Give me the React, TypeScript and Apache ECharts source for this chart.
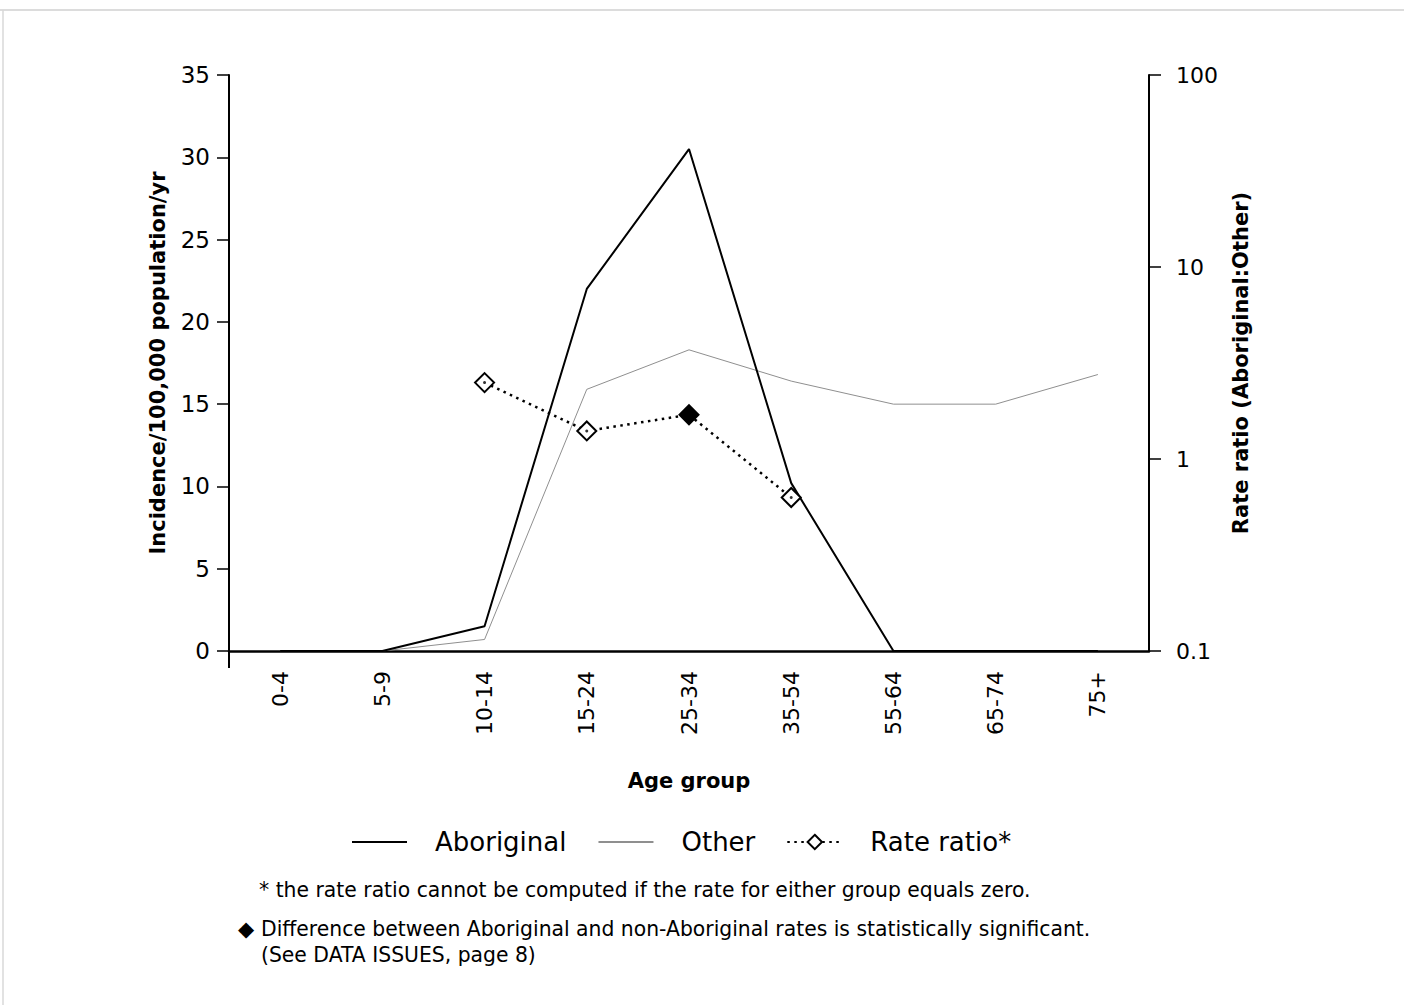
import React, { useEffect, useRef } from 'react';
import * as echarts from 'echarts';

const categories = ['0-4', '5-9', '10-14', '15-24', '25-34', '35-54', '55-64', '65-74', '75+'];
const aboriginal = [0, 0, 1.5, 22.0, 30.5, 10.2, 0, 0, 0];
const other = [0, 0, 0.7, 15.9, 18.3, 16.4, 15.0, 15.0, 16.8];
const rateRatio: (number | null)[] = [null, null, 2.5, 1.4, 1.7, 0.63, null, null, null];
const significant = [false, false, false, false, true, false, false, false, false];
const leftTicks = { min: 0, max: 35, interval: 5 };
const rightTicks = { min: 0.1, max: 100 };
const footnote1 = '* the rate ratio cannot be computed if the rate for either group equals zero.';
const footnote2 = 'Difference between Aboriginal and non-Aboriginal rates is statistically significant.';
const footnote3 = '(See DATA ISSUES, page 8)';

export default function App() {
  const ref = useRef<HTMLDivElement>(null);
  useEffect(() => {
    const chart = echarts.init(ref.current!, null, { renderer: 'svg' });
    const F = 'DejaVu Sans';
    const gL = 229, gT = 75, gW = 920, gH = 576;
    chart.setOption({
      animation: false,
      backgroundColor: '#fff',
      textStyle: { fontFamily: F, color: '#000' },
      grid: { left: gL, top: gT, width: gW, height: gH },
      legend: {
        data: [
          { name: 'Aboriginal', itemStyle: { opacity: 0 } },
          { name: 'Other', itemStyle: { opacity: 0 } },
          { name: 'Rate ratio*' },
        ],
        left: 351,
        top: 829,
        padding: 0,
        itemWidth: 55,
        itemHeight: 18,
        itemGap: 31,
        textStyle: { fontFamily: F, fontSize: 26, color: '#000', padding: [0, 0, 0, 23] },
      },
      xAxis: {
        type: 'category',
        data: categories,
        boundaryGap: true,
        name: 'Age group',
        nameLocation: 'middle',
        nameGap: 119,
        nameTextStyle: { fontFamily: F, fontWeight: 'bold', fontSize: 21, color: '#000' },
        axisLine: { lineStyle: { color: '#000', width: 2.5 } },
        axisTick: { alignWithLabel: true, length: 12, lineStyle: { color: '#000', width: 1.5 } },
        axisLabel: { rotate: 90, fontSize: 22, color: '#000', margin: 20, fontFamily: F },
        splitLine: { show: false },
      },
      yAxis: [
        {
          type: 'value',
          min: leftTicks.min,
          max: leftTicks.max,
          interval: leftTicks.interval,
          name: 'Incidence/100,000 population/yr',
          nameLocation: 'middle',
          nameGap: 61,
          nameRotate: 90,
          nameTextStyle: { fontFamily: F, fontWeight: 'bold', fontSize: 21, color: '#000' },
          axisLine: { show: true, lineStyle: { color: '#000', width: 2 } },
          axisTick: { show: true, length: 12, lineStyle: { color: '#000', width: 1.5 } },
          axisLabel: { fontSize: 23, color: '#000', margin: 19, fontFamily: F },
          splitLine: { show: false },
        },
        {
          type: 'log',
          logBase: 10,
          min: rightTicks.min,
          max: rightTicks.max,
          position: 'right',
          name: 'Rate ratio (Aboriginal:Other)',
          nameLocation: 'middle',
          nameGap: 81,
          nameRotate: 90,
          nameTextStyle: { fontFamily: F, fontWeight: 'bold', fontSize: 21, color: '#000' },
          axisLine: { show: true, lineStyle: { color: '#000', width: 2 } },
          axisTick: { show: true, length: 12, lineStyle: { color: '#000', width: 1.5 } },
          axisLabel: {
            fontSize: 22,
            color: '#000',
            margin: 27,
            fontFamily: F,
            formatter: (v: number) => (v < 1 ? v.toFixed(1) : String(Math.round(v))),
          },
          minorTick: { show: false },
          splitLine: { show: false },
        },
      ],
      series: [
        {
          name: 'Aboriginal',
          type: 'line',
          yAxisIndex: 0,
          data: aboriginal,
          symbol: 'none',
          lineStyle: { color: '#000', width: 2 },
          itemStyle: { color: '#000' },
          z: 3,
        },
        {
          name: 'Other',
          type: 'line',
          yAxisIndex: 0,
          data: other,
          symbol: 'none',
          lineStyle: { color: '#8f8f8f', width: 1 },
          itemStyle: { color: '#8f8f8f' },
          z: 2,
        },
        {
          name: 'Rate ratio*',
          type: 'line',
          yAxisIndex: 1,
          data: rateRatio.map((v, i) =>
            v == null ? null : significant[i] ? { value: v, itemStyle: { color: '#000' } } : v
          ),
          symbol: 'diamond',
          symbolSize: 19,
          showSymbol: true,
          connectNulls: false,
          lineStyle: { color: '#000', width: 2.5, type: [2.5, 4.5] },
          itemStyle: { color: '#fff', borderColor: '#000', borderWidth: 2 },
          z: 5,
        },
        {
          name: 'rr-dot',
          type: 'scatter',
          yAxisIndex: 1,
          data: rateRatio.map((v) => (v == null ? null : v)),
          symbol: 'circle',
          symbolSize: 3,
          itemStyle: { color: '#000' },
          silent: true,
          z: 6,
        },
      ],
      graphic: [
        { type: 'line', shape: { x1: 0, y1: 10, x2: 1404, y2: 10 }, style: { stroke: '#d0d0d0', lineWidth: 1.5 } },
        { type: 'line', shape: { x1: 3, y1: 10, x2: 3, y2: 1005 }, style: { stroke: '#d8d8d8', lineWidth: 1.5 } },
        { type: 'line', shape: { x1: gL, y1: gT + gH, x2: gL, y2: gT + gH + 17 }, style: { stroke: '#000', lineWidth: 2 } },
        {
          type: 'text',
          left: 259,
          top: 880,
          style: { text: footnote1, fontFamily: F, fontSize: 20.35, fill: '#000' },
        },
        {
          type: 'text',
          left: 238,
          top: 918,
          style: { text: '◆', fontFamily: F, fontSize: 21, fill: '#000' },
        },
        {
          type: 'text',
          left: 261,
          top: 919,
          style: { text: footnote2, fontFamily: F, fontSize: 20.35, fill: '#000' },
        },
        {
          type: 'text',
          left: 261,
          top: 945,
          style: { text: footnote3, fontFamily: F, fontSize: 20.35, fill: '#000' },
        },
      ],
    });
    return () => chart.dispose();
  }, []);
  return <div ref={ref} style={{ position: 'absolute', left: 0, top: 0, width: 1404, height: 1005 }} />;
}
